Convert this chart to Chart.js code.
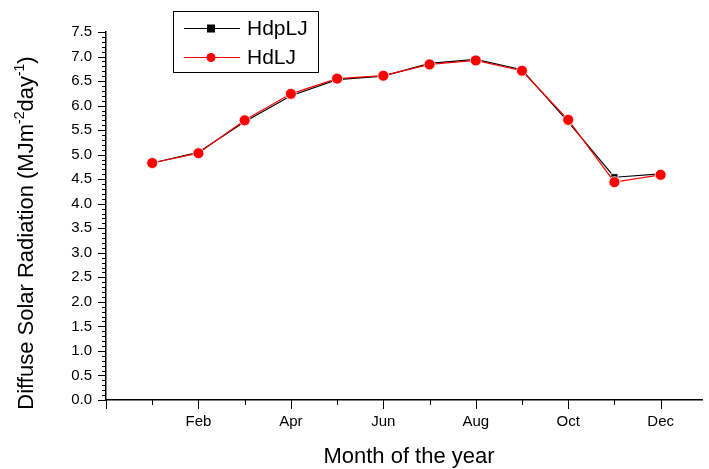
<!DOCTYPE html>
<html lang="en">
<head>
    <meta charset="UTF-8">
    <title>Diffuse Solar Radiation</title>
    <style>
        body { margin: 0; background: #fff; }
        .chart-box { width: 709px; height: 469px; }
    </style>
</head>
<body>
    <div class="chart-box">
        <canvas id="radChart"></canvas>
    </div>

    <script src="https://cdn.jsdelivr.net/npm/chart.js@4"></script>
    <script>
        // datos
        const months = [1, 2, 3, 4, 5, 6, 7, 8, 9, 10, 11, 12];
        const monthNames = ['', 'Jan', 'Feb', 'Mar', 'Apr', 'May', 'Jun', 'Jul', 'Aug', 'Sep', 'Oct', 'Nov', 'Dec'];
        const hdpLJ = [4.83, 5.05, 5.67, 6.20, 6.53, 6.60, 6.86, 6.94, 6.73, 5.67, 4.54, 4.61];
        const hdLJ = [4.83, 5.03, 5.70, 6.24, 6.55, 6.61, 6.84, 6.92, 6.71, 5.71, 4.44, 4.59];
        const yTicks = [0, 0.5, 1, 1.5, 2, 2.5, 3, 3.5, 4, 4.5, 5, 5.5, 6, 6.5, 7, 7.5];

        const FONT = "'Liberation Sans', Arial, sans-serif";

        function toPoints(vals) {
            return months.map((m, i) => ({ x: m, y: vals[i] }));
        }

        // marcas de eje, titulos y leyenda al estilo Origin
        const originDeco = {
            id: 'originDeco',
            afterDraw(chart) {
                const c = chart.ctx;
                const xs = chart.scales.x, ys = chart.scales.y;
                const left = chart.chartArea.left, bottom = chart.chartArea.bottom;
                c.save();
                c.strokeStyle = '#000';
                c.lineWidth = 1;
                // ticks eje y
                for (let v = 0; v <= 75; v++) {
                    const py = Math.round(ys.getPixelForValue(v / 10)) + 0.5;
                    const len = (v % 5 === 0) ? 8 : 4;
                    c.beginPath();
                    c.moveTo(left - len, py);
                    c.lineTo(left, py);
                    c.stroke();
                }
                // ticks eje x
                for (let m = 0; m <= 12; m++) {
                    const px = Math.round(xs.getPixelForValue(m)) + 0.5;
                    const len = (m % 2 === 0) ? 9 : 5;
                    c.beginPath();
                    c.moveTo(px, bottom);
                    c.lineTo(px, bottom + len);
                    c.stroke();
                }

                // titulo eje x
                c.fillStyle = '#000';
                c.font = '22px ' + FONT;
                c.textAlign = 'center';
                c.textBaseline = 'alphabetic';
                c.fillText('Month of the year', 409, 463);

                // titulo eje y con superindices
                const parts = [
                    ['Diffuse Solar Radiation (MJm', false],
                    ['-2', true],
                    ['day', false],
                    ['-1', true],
                    [')', false]
                ];
                let total = 0;
                parts.forEach(p => {
                    c.font = (p[1] ? '14px ' : '22px ') + FONT;
                    total += c.measureText(p[0]).width;
                });
                c.translate(33, 233);
                c.rotate(-Math.PI / 2);
                c.textAlign = 'left';
                let pos = -total / 2;
                parts.forEach(p => {
                    c.font = (p[1] ? '14px ' : '22px ') + FONT;
                    c.fillText(p[0], pos, p[1] ? -9 : 0);
                    pos += c.measureText(p[0]).width;
                });
                c.setTransform(1, 0, 0, 1, 0, 0);

                // leyenda
                c.strokeStyle = '#000';
                c.lineWidth = 1;
                c.strokeRect(173.5, 11.5, 145, 61);
                const rows = [28, 57];
                chart.data.datasets.forEach((ds, i) => {
                    const y = rows[i];
                    c.strokeStyle = ds.borderColor;
                    c.lineWidth = 1;
                    c.beginPath();
                    c.moveTo(184, y + 0.5);
                    c.lineTo(240, y + 0.5);
                    c.stroke();
                    c.fillStyle = ds.pointBackgroundColor;
                    if (ds.pointStyle === 'rect') {
                        c.fillRect(207, y - 3.5, 8, 8);
                    } else {
                        c.beginPath();
                        c.arc(211, y + 0.5, 4.5, 0, Math.PI * 2);
                        c.fill();
                    }
                    c.fillStyle = '#000';
                    c.font = '21px ' + FONT;
                    c.textAlign = 'left';
                    c.textBaseline = 'middle';
                    c.fillText(ds.label, 247, y + 1);
                });
                c.restore();
            }
        };

        const ctx = document.getElementById('radChart').getContext('2d');
        const radChart = new Chart(ctx, {
            type: 'line',
            data: {
                datasets: [{
                    label: 'HdpLJ',
                    data: toPoints(hdpLJ),
                    order: 2,
                    borderColor: '#000000',
                    borderWidth: 1.2,
                    pointStyle: 'rect',
                    pointRadius: 5,
                    pointBackgroundColor: '#000000',
                    pointBorderColor: '#ffffff',
                    pointBorderWidth: 0.8,
                    tension: 0
                }, {
                    label: 'HdLJ',
                    data: toPoints(hdLJ),
                    order: 1,
                    borderColor: '#ff0000',
                    borderWidth: 1.2,
                    pointStyle: 'circle',
                    pointRadius: 5.5,
                    pointBackgroundColor: '#ff0000',
                    pointBorderColor: '#ffffff',
                    pointBorderWidth: 0.8,
                    tension: 0
                }]
            },
            options: {
                responsive: true,
                maintainAspectRatio: false,
                animation: false,
                layout: { padding: { top: 32, left: 0, right: 0, bottom: 0 } },
                plugins: {
                    legend: { display: false },
                    tooltip: { enabled: false }
                },
                scales: {
                    x: {
                        type: 'linear',
                        min: 0,
                        max: 12.91,
                        afterFit: (s) => { s.height = 69; },
                        afterBuildTicks: (s) => { s.ticks = [0].concat(months).map(v => ({ value: v })); },
                        grid: { display: false, drawTicks: true, tickLength: 9 },
                        border: { display: true, color: '#000', width: 1.5 },
                        ticks: {
                            color: '#000',
                            font: { family: FONT, size: 15 },
                            padding: 4,
                            maxRotation: 0,
                            autoSkip: false,
                            callback: (v) => (v % 2 === 0 && v > 0) ? monthNames[v] : ''
                        }
                    },
                    y: {
                        min: 0,
                        max: 7.5,
                        afterFit: (s) => { s.width = 106; },
                        afterBuildTicks: (s) => { s.ticks = yTicks.map(v => ({ value: v })); },
                        grid: { display: false, drawTicks: true, tickLength: 8 },
                        border: { display: true, color: '#000', width: 1.5 },
                        ticks: {
                            color: '#000',
                            font: { family: FONT, size: 15 },
                            padding: 6,
                            callback: (v) => v.toFixed(1)
                        }
                    }
                }
            },
            plugins: [originDeco]
        });
    </script>
</body>
</html>
